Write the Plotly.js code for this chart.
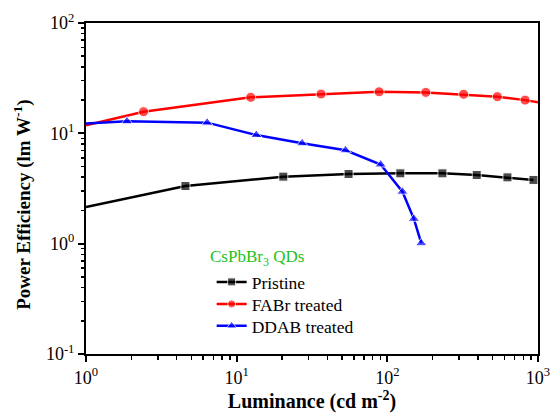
<!DOCTYPE html>
<html>
<head>
<meta charset="utf-8">
<script src="https://cdn.plot.ly/plotly-3.0.1.min.js"></script>
<style>html,body{margin:0;padding:0;background:#fff;}#chart{width:553px;height:419px;}</style>
</head>
<body>
<div id="chart"></div>
<script>
// Data
const pristineX = [1.0, 4.57, 20.4, 55.3, 122, 232, 392, 627, 933];
const pristineY = [2.15, 3.33, 4.05, 4.28, 4.34, 4.34, 4.19, 3.99, 3.78];
const pristineShowMarker = [0, 1, 1, 1, 1, 1, 1, 1, 1];

const fabrX = [1.0, 2.41, 12.4, 36.3, 88.2, 180, 321, 537, 821, 1000];
const fabrY = [11.8, 15.7, 21.2, 22.7, 23.8, 23.5, 22.6, 21.5, 20.0, 19.1];
const fabrShowMarker = [0, 1, 1, 1, 1, 1, 1, 1, 1, 0];

const ddabX = [1.0, 1.87, 6.37, 13.5, 27.2, 52.8, 90.3, 126, 150, 168];
const ddabY = [12.3, 12.85, 12.5, 9.66, 8.13, 7.02, 5.22, 2.96, 1.68, 1.01];
const ddabShowMarker = [0, 1, 1, 1, 1, 1, 1, 1, 1, 1];

const seriesNames = ['Pristine', 'FABr treated', 'DDAB treated'];
const legendTitle = 'CsPbBr<sub>3</sub> QDs';
const xTickVals = [1, 10, 100, 1000];
const xTickText = ['10<sup>0</sup>', '10<sup>1</sup>', '10<sup>2</sup>', '10<sup>3</sup>'];
const yTickVals = [0.1, 1, 10, 100];
const yTickText = ['10<sup>-1</sup>', '10<sup>0</sup>', '10<sup>1</sup>', '10<sup>2</sup>'];
const xTitle = '<b>Luminance (cd m<sup>-2</sup>)</b>';
const yTitle = '<b>Power Efficiency (lm W<sup>-1</sup>)</b>';

const FONT = 'Liberation Serif';

function sizes(flags, s) { return flags.map(f => f ? s : 0); }

const traces = [
  {x: pristineX, y: pristineY, name: seriesNames[0], mode: 'lines+markers', legend: 'legend',
   line: {color: '#000000', width: 2.5},
   marker: {symbol: 'square', size: sizes(pristineShowMarker, 9), color: '#000000'}},
  {x: fabrX, y: fabrY, name: seriesNames[1], mode: 'lines+markers', legend: 'legend2',
   line: {color: '#ff0000', width: 2.5},
   marker: {symbol: 'circle', size: sizes(fabrShowMarker, 10), color: '#ff0000'}},
  {x: ddabX, y: ddabY, name: seriesNames[2], mode: 'lines+markers', legend: 'legend3',
   line: {color: '#0000ff', width: 2.5},
   marker: {symbol: 'triangle-up', size: sizes(ddabShowMarker, 10), color: '#0000ff'}}
];

const axisCommon = {
  type: 'log', showgrid: false, zeroline: false,
  showline: true, linecolor: '#000', linewidth: 2, mirror: true,
  ticks: 'outside', ticklen: 6, tickwidth: 2, tickcolor: '#000',
  tickfont: {family: FONT, size: 18, color: '#000'},
  tickmode: 'array',
  minor: {ticks: 'outside', ticklen: 3.5, tickwidth: 1.5, tickcolor: '#000', dtick: 'D1', showgrid: false}
};

function legendAt(y) {
  return {
    x: 0.278, y: y, xanchor: 'left', yanchor: 'middle',
    bgcolor: 'rgba(0,0,0,0)', borderwidth: 0,
    font: {family: FONT, size: 17.5, color: '#000'},
    tracegroupgap: 0
  };
}

const layout = {
  width: 553, height: 419,
  margin: {l: 86, r: 15, t: 23, b: 65},
  paper_bgcolor: '#fff', plot_bgcolor: '#fff',
  font: {family: FONT, color: '#000'},
  xaxis: Object.assign({}, axisCommon, {
    range: [0, 3], tickvals: xTickVals, ticktext: xTickText,
    title: {text: xTitle, font: {family: FONT, size: 20, color: '#000'}, standoff: 4}
  }),
  yaxis: Object.assign({}, axisCommon, {
    range: [-1, 2], tickvals: yTickVals, ticktext: yTickText
  }),
  showlegend: true,
  legend: legendAt(0.2175),
  legend2: legendAt(0.151),
  legend3: legendAt(0.0846),
  annotations: [{
    text: legendTitle, xref: 'paper', yref: 'paper',
    x: 0.270, y: 0.29, xanchor: 'left', yanchor: 'middle', showarrow: false,
    font: {family: FONT, size: 17, color: '#22c322'}
  }, {
    text: yTitle, xref: 'paper', yref: 'paper', textangle: -90,
    x: -0.142, y: 0.45, xanchor: 'center', yanchor: 'middle', showarrow: false,
    font: {family: FONT, size: 19, color: '#000'}
  }]
};

Plotly.newPlot('chart', traces, layout, {displayModeBar: false, staticPlot: true});
</script>
</body>
</html>
